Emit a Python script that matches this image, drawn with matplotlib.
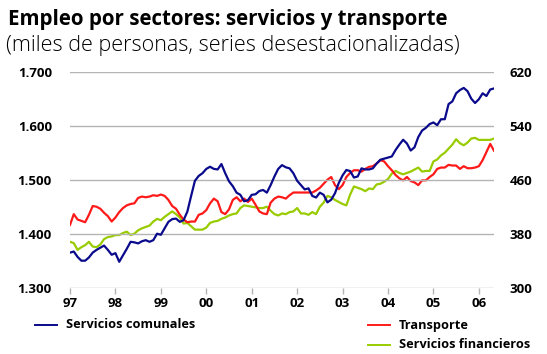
import numpy as np
import matplotlib
matplotlib.use("Agg")
import matplotlib.pyplot as plt
from matplotlib.lines import Line2D

# Monthly series, January 1997 onwards
start_year = 1997
comunales = [
    1.365, 1.367, 1.357, 1.350, 1.350, 1.356, 1.365, 1.370, 1.374, 1.378,
    1.370, 1.361, 1.364, 1.348, 1.360, 1.372, 1.385, 1.384, 1.382, 1.386,
    1.388, 1.385, 1.388, 1.400, 1.398, 1.410, 1.422, 1.427, 1.428, 1.422,
    1.425, 1.441, 1.470, 1.498, 1.507, 1.512, 1.520, 1.524, 1.520, 1.519,
    1.529, 1.512, 1.497, 1.488, 1.476, 1.472, 1.460, 1.462, 1.472, 1.473,
    1.479, 1.481, 1.476, 1.490, 1.506, 1.520, 1.527, 1.523, 1.521, 1.512,
    1.498, 1.490, 1.482, 1.484, 1.470, 1.467, 1.476, 1.472, 1.458, 1.463,
    1.475, 1.494, 1.508, 1.518, 1.516, 1.504, 1.506, 1.521, 1.519, 1.519,
    1.521, 1.530, 1.537, 1.539, 1.541, 1.543, 1.555, 1.565, 1.574, 1.567,
    1.554, 1.560, 1.579, 1.591, 1.596, 1.603, 1.606, 1.601, 1.612, 1.612,
    1.640, 1.645, 1.660, 1.666, 1.670, 1.664, 1.650, 1.642, 1.649, 1.660,
    1.655, 1.667, 1.669,
]
transporte = [
    393, 409, 401, 399, 397, 408, 421, 420, 417, 411,
    406, 398, 404, 412, 418, 422, 424, 425, 433, 435,
    434, 435, 437, 436, 438, 436, 430, 421, 417, 408,
    401, 397, 398, 398, 408, 410, 415, 425, 432, 428,
    412, 409, 416, 430, 434, 428, 432, 427, 432, 423,
    413, 410, 409, 426, 432, 435, 434, 432, 437, 441,
    441, 441, 441, 441, 441, 444, 448, 454, 460, 464,
    452, 446, 452, 464, 470, 474, 474, 472, 476, 479,
    480, 484, 489, 487, 480, 474, 467, 462, 459, 464,
    458, 456, 452, 459, 459, 464, 468, 476, 478, 478,
    482, 481, 481, 476, 480, 477, 477, 478, 480, 489,
    501, 513, 503,
]
financieros = [
    368, 366, 356, 360, 363, 368, 361, 360, 364, 372,
    375, 376, 378, 378, 381, 383, 378, 380, 385, 388,
    390, 392, 398, 402, 400, 405, 409, 413, 409, 404,
    395, 396, 391, 386, 386, 386, 389, 396, 398, 399,
    402, 404, 407, 409, 410, 418, 422, 421, 420, 419,
    418, 418, 420, 414, 409, 407, 410, 409, 412, 413,
    418, 410, 410, 408, 412, 409, 420, 426, 436, 434,
    430, 427, 424, 422, 438, 450, 448, 446, 443, 447,
    446, 453, 454, 457, 461, 469, 473, 470, 468, 470,
    472, 475, 478, 472, 473, 473, 487, 490, 496, 500,
    506, 512, 520, 514, 511, 515, 521, 522, 519, 519,
    519, 519, 521,
]
year_labels = ["97", "98", "99", "00", "01", "02", "03", "04", "05", "06"]
left_ticks = [1.300, 1.400, 1.500, 1.600, 1.700]
right_ticks = [300, 380, 460, 540, 620]

names = ["Servicios comunales", "Transporte", "Servicios financieros"]
colors = ["#0a0a8c", "#ff1a1a", "#99cc00"]

t = start_year + np.arange(len(comunales)) / 12.0

plt.rcParams["font.family"] = ["Open Sans", "DejaVu Sans"]

fig = plt.figure(figsize=(5.47, 3.54), dpi=100)
ax = fig.add_axes([70 / 547, 1 - 287.7 / 354, 424 / 547, 216 / 354])
ax2 = ax.twinx()

grid_c = "#b4b4b4"
for v in left_ticks:
    ax.axhline(v, color=grid_c, lw=1.0, zorder=0)

ax.plot(t, comunales, color=colors[0], lw=1.6, zorder=3)
ax2.plot(t, transporte, color=colors[1], lw=1.6, zorder=3)
ax2.plot(t, financieros, color=colors[2], lw=1.6, zorder=2)

ax.set_xlim(start_year, t[-1])
ax.set_ylim(left_ticks[0], left_ticks[-1])
ax2.set_ylim(right_ticks[0], right_ticks[-1])

ax.set_zorder(ax2.get_zorder() + 1)
ax.patch.set_visible(False)

years = [start_year + i for i in range(len(year_labels))]
ax.set_xticks(years)
ax.set_xticklabels(year_labels)
ax.set_yticks(left_ticks)
ax.set_yticklabels([f"{v:.3f}" for v in left_ticks])
ax2.set_yticks(right_ticks)
ax2.set_yticklabels([str(v) for v in right_ticks])

for a in (ax, ax2):
    for s in a.spines.values():
        s.set_visible(False)
    a.tick_params(axis="y", length=0, labelsize=9.5, pad=13)
    for lab in a.get_yticklabels():
        lab.set_fontweight("bold")
ax.tick_params(axis="x", length=4, color=grid_c, width=1.0, labelsize=9.5, pad=3)
for lab in ax.get_xticklabels():
    lab.set_fontweight("bold")
ax2.tick_params(axis="y", pad=11)

fig.text(8 / 547, 1 - 25 / 354, "Empleo por sectores: servicios y transporte",
         fontsize=14.8, fontweight="bold", ha="left", va="baseline")
fig.text(6 / 547, 1 - 51 / 354, "(miles de personas, series desestacionalizadas)",
         fontsize=15.5, fontweight="light", ha="left", va="baseline")

# Legend entries
def legend_entry(x0, y, color, label):
    fig.add_artist(Line2D([x0 / 547, (x0 + 22) / 547], [1 - y / 354, 1 - y / 354],
                          color=color, lw=1.4, transform=fig.transFigure))
    fig.text((x0 + 31) / 547, 1 - y / 354, label, fontsize=9.2, fontweight="bold",
             ha="left", va="center")

legend_entry(35, 325, colors[0], names[0])
legend_entry(368, 325, colors[1], names[1])
legend_entry(368, 345, colors[2], names[2])

fig.savefig("out.png", dpi=100)
